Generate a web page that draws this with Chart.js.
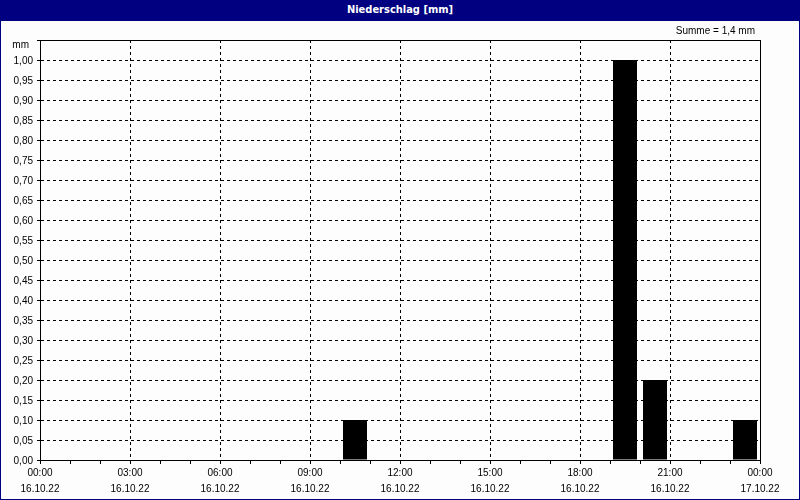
<!DOCTYPE html>
<html>
<head>
<meta charset="utf-8">
<script src="https://cdn.jsdelivr.net/npm/chart.js@4/dist/chart.umd.min.js"></script>
<style>
  html, body { margin: 0; padding: 0; background: #fcfdfc; }
  #wrap { position: relative; width: 800px; height: 500px; background: #fcfdfc; overflow: hidden; }
  #c { position: absolute; left: 0; top: 0; }
  #frame { position: absolute; left: 0; top: 0; width: 800px; height: 500px; box-sizing: border-box; border: 1px solid #000080; pointer-events: none; }
  #title { position: absolute; left: 0; top: 0; width: 800px; height: 21px; background: #000080; color: #fff;
           font: bold 11px "Liberation Sans Narrow", "DejaVu Sans Condensed", "Liberation Sans", sans-serif; line-height: 20px; text-align: center; }
  #summe { position: absolute; right: 45px; top: 25px; font: 10px "Liberation Sans", Arial, sans-serif; color: #000; }
  #unit { position: absolute; right: 771px; top: 39px; font: 10px "Liberation Sans", Arial, sans-serif; color: #000; }
</style>
</head>
<body>
<div id="wrap">
  <canvas id="c" width="800" height="500"></canvas>
  <div id="title">Niederschlag [mm]</div>
  <div id="frame"></div>
  <div id="summe">Summe = 1,4 mm</div>
  <div id="unit">mm</div>
</div>
<script>
const hours = ['00:00','01:00','02:00','03:00','04:00','05:00','06:00','07:00','08:00','09:00','10:00','11:00',
               '12:00','13:00','14:00','15:00','16:00','17:00','18:00','19:00','20:00','21:00','22:00','23:00'];
const rain = [0,0,0,0,0,0,0,0,0,0,0.1,0,0,0,0,0,0,0,0,1.0,0.2,0,0,0.1];
const tickTimes = ['00:00','03:00','06:00','09:00','12:00','15:00','18:00','21:00','00:00'];
const tickDates = ['16.10.22','16.10.22','16.10.22','16.10.22','16.10.22','16.10.22','16.10.22','16.10.22','17.10.22'];

const FONT = { family: '"Liberation Sans", Arial, sans-serif', size: 10 };

const framePlugin = {
  id: 'framePlugin',
  afterDraw(chart) {
    const a = chart.chartArea, ctx = chart.ctx;
    ctx.save();
    ctx.strokeStyle = '#000';
    ctx.lineWidth = 1;
    ctx.strokeRect(Math.round(a.left) + 0.5, Math.round(a.top) + 0.5, Math.round(a.right - a.left), Math.round(a.bottom - a.top));
    ctx.restore();
  }
};

new Chart(document.getElementById('c'), {
  type: 'bar',
  data: {
    labels: hours,
    datasets: [{
      data: rain,
      backgroundColor: '#000',
      borderWidth: 0,
      barPercentage: 0.8,
      categoryPercentage: 1.0,
      xAxisID: 'x'
    }]
  },
  options: {
    responsive: false,
    animation: false,
    layout: { padding: { top: 40, right: 40, left: 0, bottom: 0 } },
    plugins: { legend: { display: false }, tooltip: { enabled: false }, title: { display: false } },
    scales: {
      x: { type: 'category', display: false, offset: true },
      xt: {
        type: 'linear', position: 'bottom', min: 0, max: 24, offset: false,
        afterFit(s) { s.height = 40; },
        ticks: {
          stepSize: 1, autoSkip: false, maxRotation: 0, minRotation: 0, color: '#000',
          font: { family: '"Liberation Sans", Arial, sans-serif', size: 10, lineHeight: 1.6 }, padding: 1,
          callback: (v) => (v % 3 === 0) ? [tickTimes[v / 3], tickDates[v / 3]] : ''
        },
        grid: {
          offset: false,
          color: (ctx) => (ctx.tick && ctx.tick.value % 3 === 0) ? '#000' : 'rgba(0,0,0,0)',
          tickColor: '#000', tickLength: 4, lineWidth: 1
        },
        border: { display: true, color: '#000', width: 1, dash: [3, 3] }
      },
      y: {
        min: 0, max: 1.05,
        afterFit(s) { s.width = 40; },
        ticks: {
          stepSize: 0.05, color: '#000', font: FONT, padding: 4, labelOffset: 1,
          callback: (v) => (v > 1.02) ? '' : v.toFixed(2).replace('.', ',')
        },
        grid: { color: '#000', tickColor: '#000', tickLength: 3, lineWidth: 1 },
        border: { display: true, color: '#000', width: 1, dash: [3, 3] }
      }
    }
  },
  plugins: [framePlugin]
});
</script>
</body>
</html>
